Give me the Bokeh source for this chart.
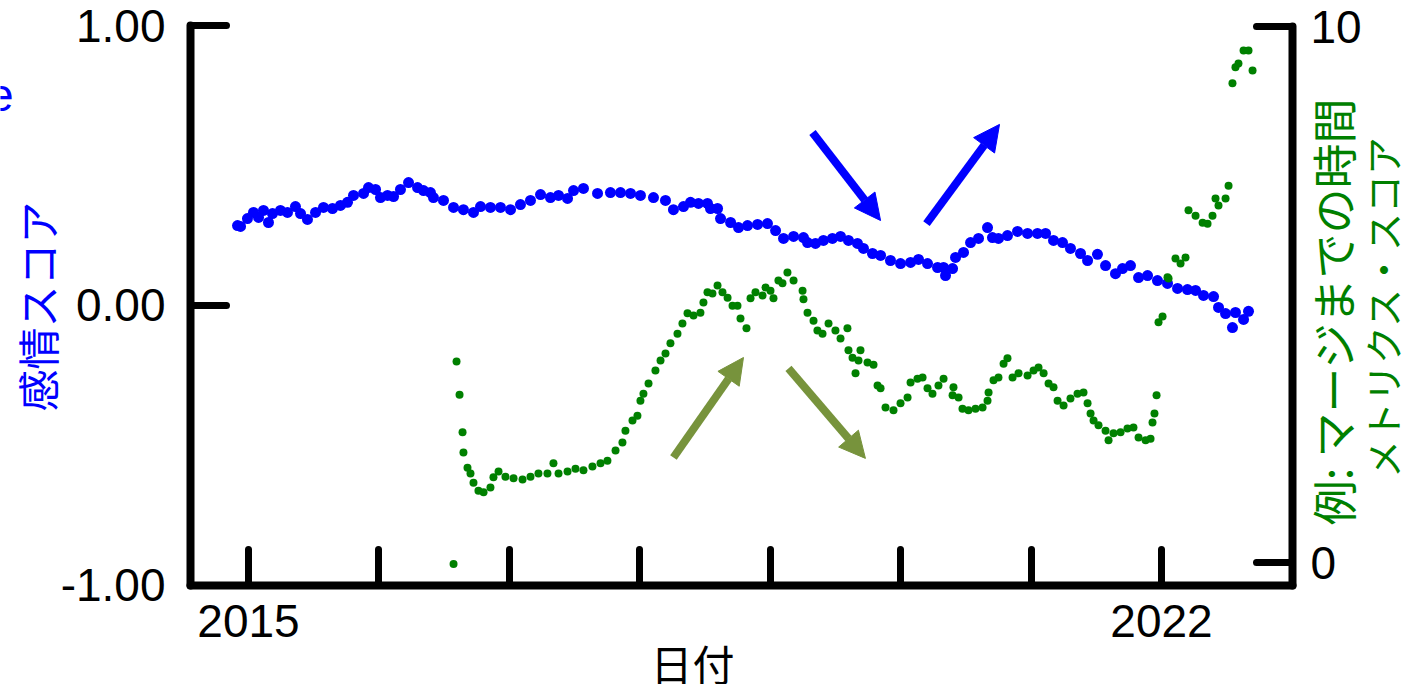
import math
from bokeh.plotting import figure
from bokeh.models import (Range1d, LinearAxis, FixedTicker, NumeralTickFormatter,
                          Label, Arrow, NormalHead)
from bokeh.embed import file_html
from bokeh.resources import INLINE

# ---------------- data ----------------
sent_year = [2014.916, 2014.939, 2014.992, 2015.038, 2015.077, 2015.115, 2015.153, 2015.184,
             2015.245, 2015.299, 2015.360, 2015.399, 2015.452, 2015.514, 2015.575, 2015.644,
             2015.705, 2015.759, 2015.805, 2015.882, 2015.920, 2015.974, 2016.012, 2016.066,
             2016.112, 2016.165, 2016.227, 2016.296, 2016.342, 2016.395, 2016.418, 2016.495,
             2016.572, 2016.648, 2016.725, 2016.779, 2016.855, 2016.932, 2017.009, 2017.085,
             2017.162, 2017.239, 2017.315, 2017.377, 2017.446, 2017.492, 2017.568, 2017.676,
             2017.775, 2017.852, 2017.929, 2018.005, 2018.105, 2018.197, 2018.258, 2018.335,
             2018.389, 2018.450, 2018.519, 2018.542, 2018.596, 2018.619, 2018.696, 2018.757,
             2018.826, 2018.903, 2018.979, 2019.041, 2019.102, 2019.179, 2019.255, 2019.286,
             2019.347, 2019.408, 2019.477, 2019.539, 2019.600, 2019.669, 2019.715, 2019.784,
             2019.846, 2019.922, 2019.999, 2020.076, 2020.137, 2020.206, 2020.283, 2020.329,
             2020.344, 2020.398, 2020.421, 2020.482, 2020.536, 2020.597, 2020.666, 2020.704,
             2020.750, 2020.819, 2020.896, 2020.973, 2021.049, 2021.111, 2021.172, 2021.241,
             2021.302, 2021.379, 2021.433, 2021.509, 2021.571, 2021.647, 2021.701, 2021.762,
             2021.824, 2021.893, 2021.969, 2022.046, 2022.123, 2022.199, 2022.261, 2022.322,
             2022.399, 2022.437, 2022.491, 2022.544, 2022.567, 2022.629, 2022.667]
sent_score = [0.286, 0.283, 0.311, 0.333, 0.315, 0.340, 0.297, 0.329,
              0.340, 0.333, 0.354, 0.329, 0.308, 0.333, 0.351, 0.347,
              0.358, 0.369, 0.394, 0.401, 0.422, 0.415, 0.386, 0.394,
              0.390, 0.415, 0.440, 0.422, 0.411, 0.404, 0.386, 0.376,
              0.351, 0.343, 0.333, 0.354, 0.351, 0.351, 0.343, 0.361,
              0.376, 0.397, 0.386, 0.394, 0.383, 0.411, 0.419, 0.401,
              0.404, 0.404, 0.401, 0.394, 0.386, 0.376, 0.343, 0.354,
              0.369, 0.365, 0.365, 0.347, 0.347, 0.311, 0.297, 0.279,
              0.286, 0.290, 0.293, 0.268, 0.240, 0.247, 0.243, 0.225,
              0.222, 0.233, 0.240, 0.247, 0.233, 0.222, 0.204, 0.186,
              0.179, 0.161, 0.150, 0.154, 0.165, 0.150, 0.136, 0.136,
              0.107, 0.132, 0.172, 0.190, 0.225, 0.240, 0.279, 0.243,
              0.240, 0.250, 0.265, 0.258, 0.258, 0.258, 0.233, 0.225,
              0.204, 0.186, 0.161, 0.183, 0.143, 0.114, 0.132, 0.143,
              0.100, 0.107, 0.089, 0.079, 0.061, 0.057, 0.054, 0.036,
              0.032, -0.007, -0.029, -0.079, -0.025, -0.050, -0.021]

metric_year = [2016.572, 2016.595, 2016.618, 2016.641, 2016.648, 2016.679, 2016.702, 2016.725,
               2016.763, 2016.802, 2016.855, 2016.878, 2016.917, 2016.970, 2017.032, 2017.101,
               2017.162, 2017.223, 2017.292, 2017.338, 2017.377, 2017.446, 2017.507, 2017.568,
               2017.637, 2017.699, 2017.752, 2017.814, 2017.867, 2017.890, 2017.944, 2017.982,
               2018.005, 2018.028, 2018.067, 2018.120, 2018.159, 2018.197, 2018.235, 2018.289,
               2018.327, 2018.366, 2018.412, 2018.465, 2018.488, 2018.519, 2018.557, 2018.596,
               2018.634, 2018.673, 2018.711, 2018.749, 2018.772, 2018.818, 2018.849, 2018.887,
               2018.941, 2018.964, 2019.002, 2019.025, 2019.063, 2019.094, 2019.132, 2019.179,
               2019.248, 2019.255, 2019.286, 2019.332, 2019.362, 2019.401, 2019.447, 2019.500,
               2019.539, 2019.592, 2019.600, 2019.631, 2019.654, 2019.677, 2019.692, 2019.746,
               2019.792, 2019.823, 2019.846, 2019.884, 2019.945, 2019.999, 2020.053, 2020.076,
               2020.129, 2020.168, 2020.206, 2020.244, 2020.290, 2020.329, 2020.398, 2020.405,
               2020.444, 2020.474, 2020.520, 2020.574, 2020.628, 2020.666, 2020.674, 2020.712,
               2020.750, 2020.789, 2020.819, 2020.858, 2020.904, 2020.973, 2021.019, 2021.057,
               2021.096, 2021.134, 2021.172, 2021.203, 2021.249, 2021.302, 2021.356, 2021.402,
               2021.433, 2021.456, 2021.479, 2021.517, 2021.571, 2021.594, 2021.632, 2021.686,
               2021.739, 2021.785, 2021.824, 2021.878, 2021.916, 2021.931, 2021.946, 2021.962,
               2021.977, 2022.008, 2022.046, 2022.054, 2022.107, 2022.146, 2022.184, 2022.207,
               2022.261, 2022.315, 2022.353, 2022.391, 2022.414, 2022.437, 2022.491, 2022.514,
               2022.544, 2022.567, 2022.590, 2022.629, 2022.667, 2022.698]
metric_value = [-0.03, 3.75, 3.13, 2.43, 2.05, 1.77, 1.66, 1.49,
                1.34, 1.31, 1.40, 1.59, 1.70, 1.60, 1.57, 1.55,
                1.60, 1.66, 1.66, 1.85, 1.66, 1.70, 1.75, 1.72,
                1.79, 1.85, 1.90, 2.09, 2.24, 2.46, 2.65, 2.74,
                3.02, 3.15, 3.34, 3.58, 3.77, 3.90, 4.09, 4.27,
                4.46, 4.65, 4.61, 4.66, 4.85, 5.04, 5.02, 5.17,
                5.04, 4.94, 4.79, 4.79, 4.55, 4.37, 4.93, 5.04,
                4.98, 5.13, 5.07, 4.93, 5.26, 5.21, 5.41, 5.26,
                5.07, 4.91, 4.66, 4.51, 4.33, 4.27, 4.46, 4.33,
                4.18, 4.37, 3.96, 3.82, 3.53, 3.77, 3.96, 3.73,
                3.69, 3.30, 3.25, 2.89, 2.84, 2.97, 3.08, 3.36,
                3.43, 3.45, 3.25, 3.15, 3.30, 3.43, 3.12, 3.27,
                3.08, 2.87, 2.84, 2.87, 2.89, 3.02, 3.17, 3.40,
                3.45, 3.71, 3.81, 3.45, 3.53, 3.49, 3.58, 3.64,
                3.53, 3.34, 3.27, 3.02, 2.93, 3.06, 3.15, 3.17,
                2.97, 2.78, 2.65, 2.56, 2.46, 2.28, 2.41, 2.43,
                2.50, 2.52, 2.33, 2.28, 2.31, 2.61, 2.78, 3.12,
                4.48, 4.59, 5.32, 5.30, 5.67, 5.58, 5.69, 6.57,
                6.47, 6.34, 6.32, 6.47, 6.79, 6.66, 6.79, 7.03,
                8.94, 9.24, 9.31, 9.55, 9.55, 9.18]

x_ticks = [2015, 2016, 2017, 2018, 2019, 2020, 2021, 2022]
x_tick_labels = {2015: "2015", 2016: "", 2017: "", 2018: "", 2019: "", 2020: "", 2021: "", 2022: "2022"}
left_ticks = [-1, 0, 1]
right_ticks = [0, 10]

x_title = "日付"
left_title = "感情スコア"
right_title_1 = "例: マージまでの時間"
right_title_2 = "メトリクス・スコア"
stray_text = "e"

# axis extents (data units)
X_LO, X_HI = 2014.5553, 2023.0043
Y_LO, Y_HI = -1.0, 1.0
R_LO, R_HI = -0.429, 10.0

# ---------------- figure ----------------
TICK_FONT = "Liberation Sans"
JP_FONT = "Noto Sans CJK JP"

# the frame covers the whole canvas; axes are pinned with fixed_location
p = figure(width=1409, height=684, output_backend="svg", toolbar_location=None,
           x_range=Range1d(2013.0986, 2023.9013), y_range=Range1d(-1.35599, 1.09123),
           min_border=0)
p.extra_y_ranges = {"right": Range1d(-2.2761, 10.4851)}
p.grid.visible = False
p.outline_line_color = None
p.background_fill_color = "white"
p.border_fill_color = "white"


def style_axis(ax, standoff):
    ax.axis_line_width = 8
    ax.axis_line_color = "black"
    ax.axis_line_cap = "round"
    ax.major_tick_line_width = 7
    ax.major_tick_line_cap = "round"
    ax.major_tick_line_color = "black"
    ax.major_tick_in = 36
    ax.major_tick_out = 0
    ax.minor_tick_line_color = None
    ax.major_label_text_font = TICK_FONT
    ax.major_label_text_font_size = "46px"
    ax.major_label_text_color = "black"
    ax.major_label_standoff = standoff


xa = p.xaxis[0]
xa.ticker = FixedTicker(ticks=x_ticks)
xa.major_label_overrides = x_tick_labels
xa.fixed_location = Y_LO
xa.bounds = (X_LO, X_HI)
style_axis(xa, 20)

ya = p.yaxis[0]
ya.ticker = FixedTicker(ticks=left_ticks)
ya.formatter = NumeralTickFormatter(format="0.00")
ya.fixed_location = X_LO
ya.bounds = (Y_LO, Y_HI)
style_axis(ya, 25)

ra = LinearAxis(y_range_name="right", fixed_location=X_HI, bounds=(R_LO, R_HI))
ra.ticker = FixedTicker(ticks=right_ticks)
style_axis(ra, 18)
p.add_layout(ra, "right")

# ---------------- data marks ----------------
p.scatter(x=sent_year, y=sent_score, size=11, color="#0000ff", line_color=None)
p.scatter(x=metric_year, y=metric_value, size=8, color="#008000", line_color=None,
          y_range_name="right")

# ---------------- arrows ----------------
def add_arrow(xs, ys, xe, ye, color):
    p.add_layout(Arrow(x_start=xs, y_start=ys, x_end=xe, y_end=ye,
                       line_color=color, line_width=8,
                       end=NormalHead(size=26, fill_color=color, line_color=color, line_width=1)))

add_arrow(2019.324, 0.619, 2019.846, 0.304, "#0000ff")
add_arrow(2020.198, 0.293, 2020.758, 0.648, "#0000ff")
add_arrow(2018.258, -0.544, 2018.795, -0.186, "#77933c")
add_arrow(2019.140, -0.225, 2019.730, -0.547, "#77933c")

# ---------------- titles ----------------
def add_label(x, y, text, color, size, angle=0.0, align="center", baseline="middle", font=JP_FONT):
    p.add_layout(Label(x=x, y=y, text=text, angle=angle, text_align=align,
                       text_baseline=baseline, text_font=font, text_font_size=size,
                       text_color=color))

add_label(2013.3746, -0.004, left_title, "#0000ff", "42px", angle=math.pi / 2)
add_label(2023.311, -0.021, right_title_1, "#008000", "45px", angle=math.pi / 2)
add_label(2023.687, -0.005, right_title_2, "#008000", "38px", angle=math.pi / 2)
add_label(2018.404, -1.2773, x_title, "black", "42px")
add_label(2013.1983, 0.7549, stray_text, "#0000ff", "46px", align="right",
          baseline="alphabetic", font=TICK_FONT)

open("out.html", "w").write(file_html(p, INLINE))
